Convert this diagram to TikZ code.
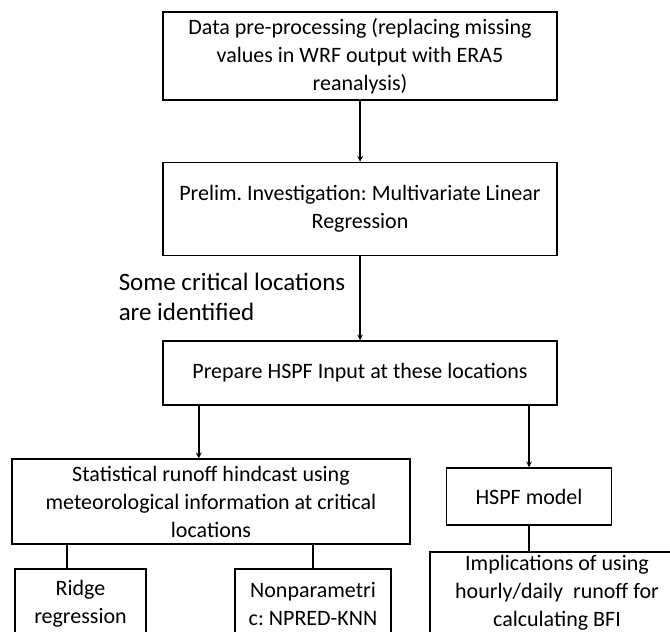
\documentclass[tikz,border=0pt]{standalone}
\usepackage{fontspec}
\setmainfont{Carlito}
\frenchspacing
\tikzset{
  box/.style={draw, line width=1.5pt, align=center, inner sep=0pt,
    font=\fontsize{22}{28}\selectfont},
}
\begin{document}
\begin{tikzpicture}[>=stealth, x=1pt, y=-1pt, line width=1.5pt]
    \clip (0,0) rectangle (670,632);
    \node[box, minimum width=394pt, minimum height=88pt] (pre) at (360,56)
        {Data pre-processing (replacing missing\\values in WRF output with ERA5\\reanalysis)};
    \node[box, minimum width=394pt, minimum height=93pt] (prelim) at (360,209)
        {Prelim. Investigation: Multivariate Linear\\Regression};
    \node[align=left, anchor=west, inner sep=0pt, font=\fontsize{25}{30}\selectfont] (crit) at (118,297)
        {Some critical locations\\are identified};
    \node[box, minimum width=394pt, minimum height=64pt] (prep) at (360,373)
        {Prepare HSPF Input at these locations};
    \node[box, minimum width=398pt, minimum height=85pt] (stat) at (211,501.5)
        {Statistical runoff hindcast using\\meteorological information at critical\\locations};
    \node[box, minimum width=165pt, minimum height=57pt] (hspf) at (529,496.5)
        {HSPF model};
    \node[box, minimum width=131pt, minimum height=70pt] (ridge) at (80.5,604)
        {Ridge\\regression};
    \node[box, minimum width=156pt, minimum height=70pt] (npred) at (313,604)
        {Nonparametri\\c: NPRED-KNN};
    \node[box, minimum width=254pt, minimum height=82pt] (impl) at (557,593)
        {Implications of using\\hourly/daily\ \ runoff for\\calculating BFI};
    \draw[->] (pre.south -| prelim.north) -- (prelim.north);
    \draw[->] (prelim.south) -- (prep.north);
    \draw[->] ([xshift=36.5pt]prep.south west) -- ([xshift=36.5pt]prep.south west |- stat.north);
    \draw[->] (prep.south -| hspf.north) -- (hspf.north);
    \draw ([xshift=-13.5pt]ridge.north |- stat.south) -- ([xshift=-13.5pt]ridge.north);
    \draw (stat.south -| npred.north) -- (npred.north);
    \draw (hspf.south) -- (hspf.south |- impl.north);
\end{tikzpicture}
\end{document}
